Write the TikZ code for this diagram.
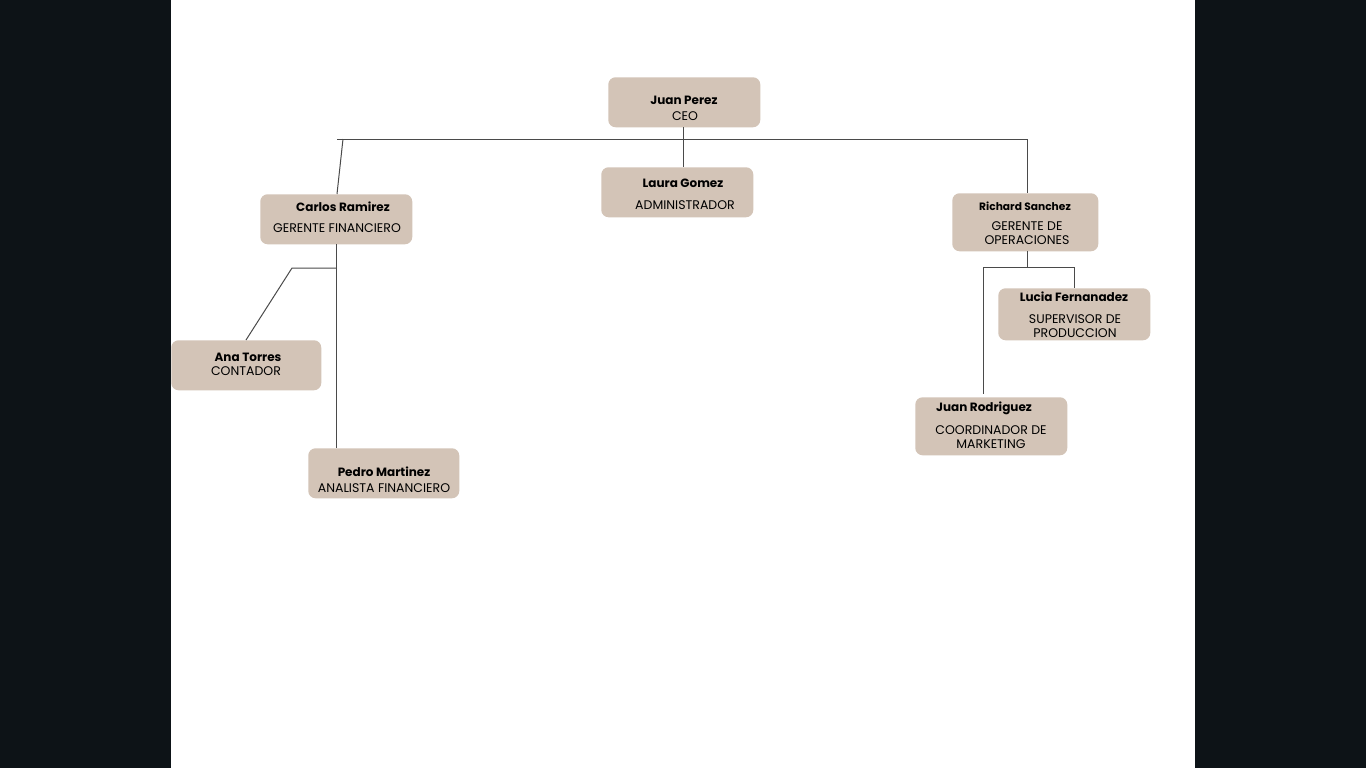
\documentclass[tikz,border=0pt]{standalone}
\usepackage{fontspec}
\setmainfont{Poppins}
\begin{document}
\begin{tikzpicture}[x=0.75pt,y=-0.75pt,
  box/.style={draw=none,fill=boxc,rounded corners=5.5pt,inner sep=0pt,anchor=north west},
  nm/.style={font=\fontsize{9}{10}\selectfont\bfseries,text=black,inner sep=0pt},
  nmsmall/.style={font=\fontsize{8}{9}\selectfont\bfseries,text=black,inner sep=0pt},
  rl/.style={font=\fontsize{9.4}{10.6}\selectfont,text=black,inner sep=0pt,align=center},
  ln/.style={draw=lnc,line width=0.75pt}]
\definecolor{boxc}{HTML}{D3C4B7}
\definecolor{lnc}{HTML}{4A4A4A}
\definecolor{bgc}{HTML}{0D1317}
\useasboundingbox (0,0) rectangle (1366,768);
\fill[bgc] (0,0) rectangle (1366,768);
\fill[white] (171,0) rectangle (1195,768);
% boxes
\node[box,minimum width=114pt,minimum height=37.5pt] (ceo) at (608,77) {};
\node[box,minimum width=114pt,minimum height=37.5pt] (laura) at (601,167) {};
\node[box,minimum width=114pt,minimum height=37.5pt] (carlos) at (260,194) {};
\node[box,minimum width=112.5pt,minimum height=37.5pt] (ana) at (171,340) {};
\node[box,minimum width=113.25pt,minimum height=37.5pt] (pedro) at (308,448) {};
\node[box,minimum width=109.5pt,minimum height=43.5pt] (richard) at (952,193) {};
\node[box,minimum width=114pt,minimum height=39pt] (lucia) at (998,288) {};
\node[box,minimum width=114pt,minimum height=43.5pt] (juanr) at (915,397) {};
% texts
\node[nm] (t1) at (684,100) {Juan Perez};
\node[rl] (r1) at (685,116) {CEO};
\node[nm] (t2) at (683,183) {Laura Gomez};
\node[rl] (r2) at (685,205) {ADMINISTRADOR};
\node[nm] (t3) at (343,207) {Carlos Ramirez};
\node[rl] (r3) at (337,228) {GERENTE FINANCIERO};
\node[nm] (t4) at (248,357) {Ana Torres};
\node[rl] (r4) at (246,371) {CONTADOR};
\node[nm] (t5) at (384,472) {Pedro Martinez};
\node[rl] (r5) at (384,488) {ANALISTA FINANCIERO};
\node[nmsmall] (t6) at (1025,206) {Richard Sanchez};
\node[rl] (r6) at (1027,233.5) {GERENTE DE\\OPERACIONES};
\node[nm] (t7) at (1074,297) {Lucia Fernanadez};
\node[rl] (r7) at (1075,326) {SUPERVISOR DE\\PRODUCCION};
\node[nm] (t8) at (984,408) {Juan Rodriguez};
\node[rl] (r8) at (991,437) {COORDINADOR DE\\MARKETING};
% connector points
\coordinate (hl) at (337,139);
\coordinate (hr) at (1027,139);
\coordinate (hs) at (343,139);
\coordinate (ctop) at (337,194);
\coordinate (cb) at (336,244);
\coordinate (cj) at (336,268);
\coordinate (ak) at (292,268);
\coordinate (atop) at (246,340);
\coordinate (pt) at (336,448);
\coordinate (cs) at (683,127);
\coordinate (lg) at (683,167);
\coordinate (rb) at (1027,251);
\coordinate (rj) at (1027,267);
\coordinate (rl1) at (983,267);
\coordinate (rr1) at (1074,267);
\coordinate (lt) at (1074,288);
\coordinate (jt) at (983,394);
\coordinate (rt) at (1027,193);
% connectors
\draw[ln] (hl) -- (hr);
\draw[ln] (cs) -- (lg);
\draw[ln] (hs) -- (ctop);
\draw[ln] (hr) -- (rt);
\draw[ln] (cb) -- (pt);
\draw[ln] (cj) -- (ak) -- (atop);
\draw[ln] (rb) -- (rj);
\draw[ln] (rl1) -- (rr1) -- (lt);
\draw[ln] (rl1) -- (jt);
\end{tikzpicture}
\end{document}
